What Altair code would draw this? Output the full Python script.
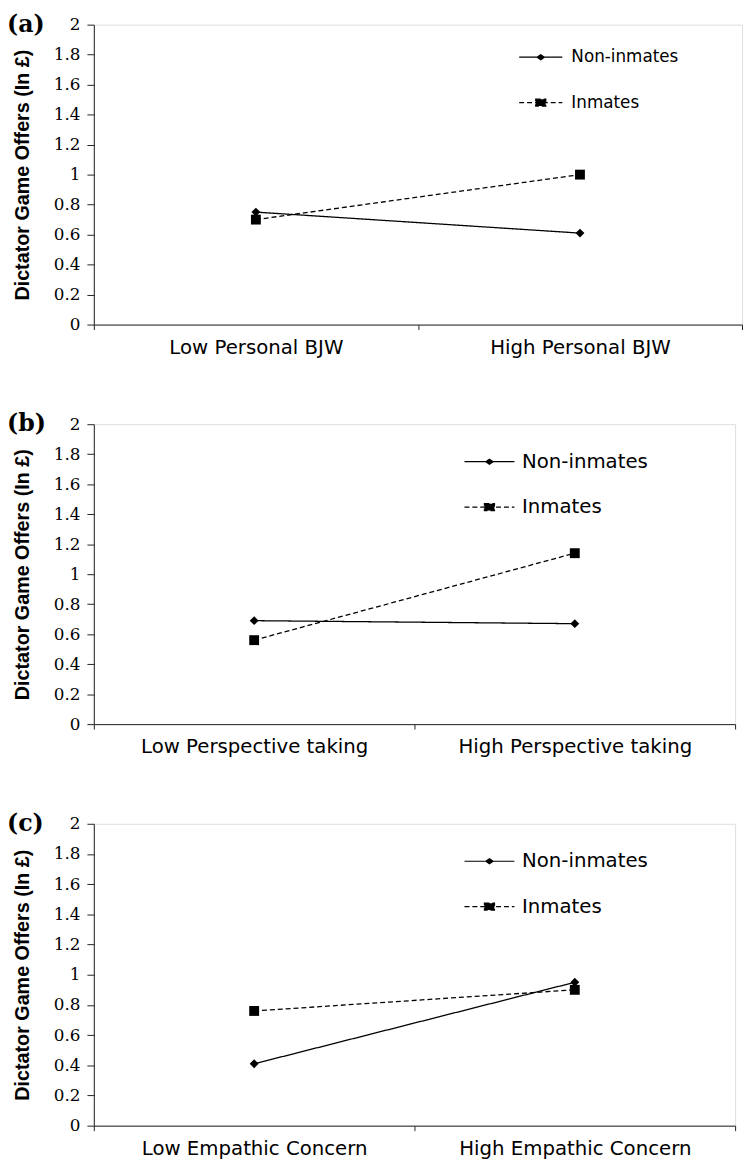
import altair as alt
import pandas as pd

groups = ["Non-inmates", "Inmates"]
cats_a = ["Low Personal BJW", "High Personal BJW"]
cats_b = ["Low Perspective taking", "High Perspective taking"]
cats_c = ["Low Empathic Concern", "High Empathic Concern"]
non_a = [0.75, 0.61]
inm_a = [0.70, 1.00]
non_b = [0.69, 0.67]
inm_b = [0.56, 1.14]
non_c = [0.41, 0.95]
inm_c = [0.76, 0.90]
y_ticks = [0, 0.2, 0.4, 0.6, 0.8, 1, 1.2, 1.4, 1.6, 1.8, 2]
panel_labels = ["(a)", "(b)", "(c)"]
y_title = "Dictator Game Offers (In \u00a3)"


def legend_paths(hw):
    p_non = f"M{-hw},0L{hw},0M-0.16,0L0,-0.11L0.16,0L0,0.11Z"
    p_inm = f"M{-hw},0L{hw},0M-0.22,-0.15L0.22,-0.15L0.22,0.15L-0.22,0.15Z"
    return p_non, p_inm


def panel(label, cats, non, inm, width, height, lx, ly, hw, label_size, legend_size, label_offset):
    grp = [groups[0]] * len(cats) + [groups[1]] * len(cats)
    df = pd.DataFrame({
        "condition": cats + cats,
        "group": grp,
        "key_non": grp,
        "key_inm": grp,
        "offer": non + inm,
    })
    p_non, p_inm = legend_paths(hw)
    x = alt.X(
        "condition:N", sort=cats,
        scale=alt.Scale(type="band", paddingInner=0, paddingOuter=0),
        axis=alt.Axis(title=None, labelAngle=0, tickBand="extent", tickSize=5, labelPadding=8,
                      labelFont="DejaVu Sans", labelFontSize=label_size, labelColor="black",
                      domainColor="#222", tickColor="#222", labelLimit=400),
    )
    y = alt.Y(
        "offer:Q",
        scale=alt.Scale(domain=[0, 2], nice=False),
        axis=alt.Axis(title=y_title, values=y_ticks, format="~g", grid=False, tickSize=7, labelPadding=7,
                      labelFont="DejaVu Serif", labelFontSize=17, labelColor="black",
                      titleFont="Liberation Sans", titleFontSize=20,
                      titleFontWeight="bold", titleColor="black", titlePadding=21,
                      domainColor="#222", tickColor="#222"),
    )
    common = dict(
        title=None, orient="none", legendX=lx, padding=0, rowPadding=0,
        symbolSize=2116, symbolStrokeWidth=1.2, symbolStrokeColor="black", symbolFillColor="black",
        symbolOpacity=1,
        labelFont="DejaVu Sans", labelFontSize=legend_size, labelColor="black", labelOffset=label_offset,
    )
    legend_non = alt.Legend(legendY=ly, values=[groups[0]], symbolType=p_non, **common)
    legend_inm = alt.Legend(legendY=ly + 46, values=[groups[1]], symbolType=p_inm,
                            symbolDash=[5, 3], **common)
    lines = alt.Chart(df).mark_line().encode(
        x=x, y=y,
        strokeDash=alt.StrokeDash("group:N", scale=alt.Scale(domain=groups, range=[[1, 0], [5, 3]]),
                                  legend=None),
        color=alt.Color("key_non:N", scale=alt.Scale(range=["black", "black"]), legend=legend_non),
        strokeWidth=alt.StrokeWidth("key_inm:N", scale=alt.Scale(type="ordinal", range=[1.3, 1.3]),
                                    legend=legend_inm),
    )
    points = alt.Chart(df).mark_point(filled=True, color="black", opacity=1).encode(
        x=x, y=y,
        shape=alt.Shape("group:N", scale=alt.Scale(domain=groups, range=["diamond", "square"]), legend=None),
        size=alt.Size("group:N", scale=alt.Scale(type="ordinal", domain=groups, range=[81, 100]), legend=None),
    )
    return alt.layer(lines, points).properties(
        width=width, height=height,
        title=alt.TitleParams(text=label, anchor="start", frame="bounds", font="DejaVu Serif",
                              fontSize=24, fontWeight="bold", color="black", offset=-21, dx=-6),
    )


pa = panel(panel_labels[0], cats_a, non_a, inm_a, 657, 304, 429, 9, 0.95, 20, 17, 7)
pb = panel(panel_labels[1], cats_b, non_b, inm_b, 650, 304, 377, 14, 1.1, 20, 20, 9)
pc = panel(panel_labels[2], cats_c, non_c, inm_c, 650, 306, 377, 14, 1.1, 20, 20, 9)

chart = alt.vconcat(pa, pb, pc, spacing=101, bounds="flush").resolve_scale(
    strokeDash="independent", color="independent", strokeWidth="independent",
    shape="independent", size="independent",
).resolve_legend(
    strokeDash="independent", color="independent", strokeWidth="independent",
    shape="independent", size="independent",
).properties(
    padding={"left": -2, "top": -4, "right": 0, "bottom": 0}
).configure_view(stroke=None).configure(background="white")

chart.save("out.html", embed_options={"renderer": "svg", "actions": False})
